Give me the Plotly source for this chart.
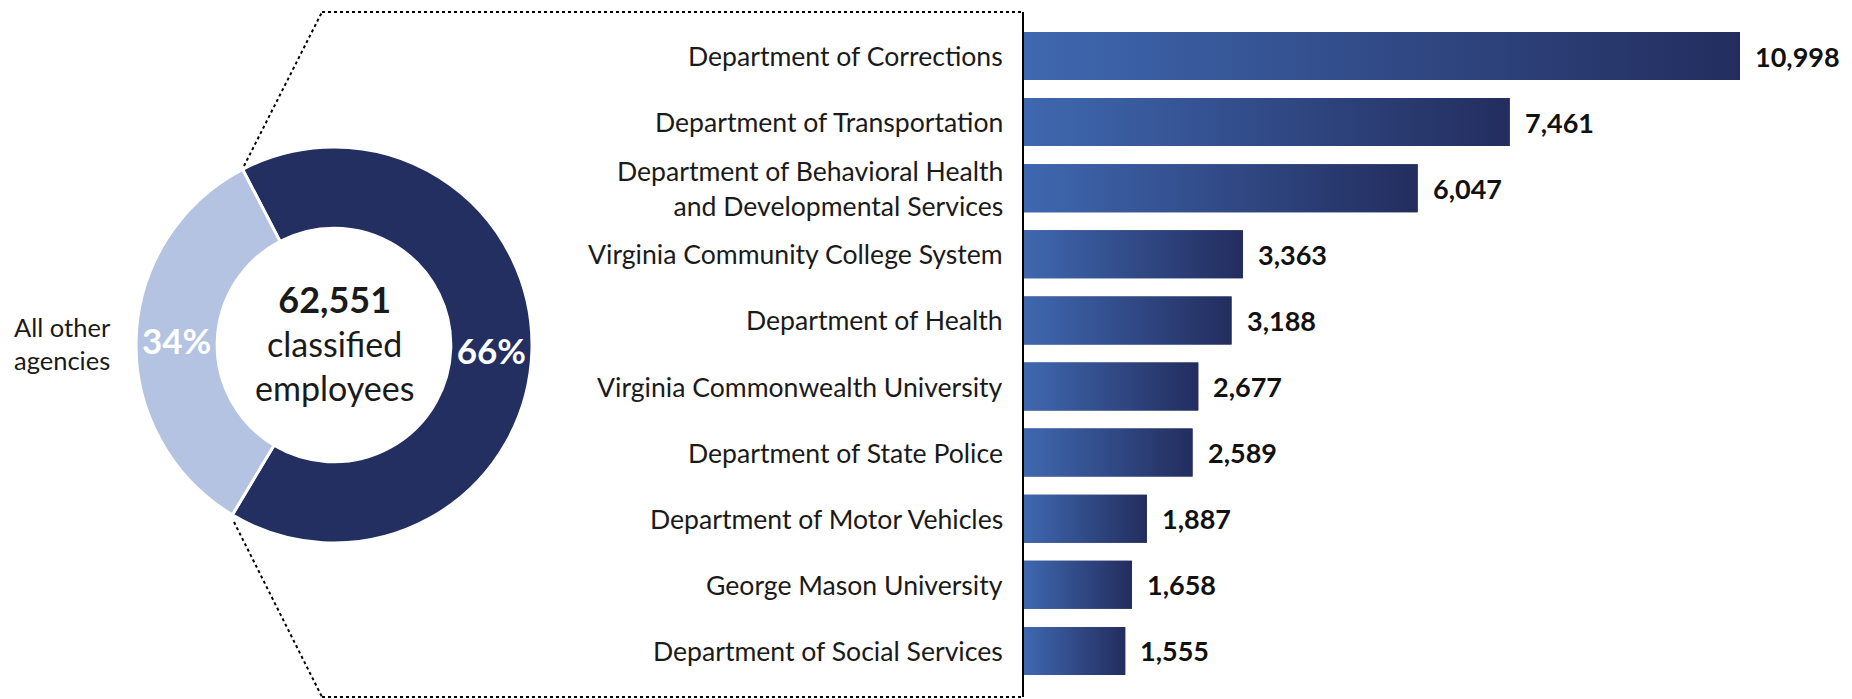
import plotly.graph_objects as go

# ---------------- data ----------------
agencies = [
    "Department of Corrections",
    "Department of Transportation",
    "Department of Behavioral Health<br>and Developmental Services",
    "Virginia Community College System",
    "Department of Health",
    "Virginia Commonwealth University",
    "Department of State Police",
    "Department of Motor Vehicles",
    "George Mason University",
    "Department of Social Services",
]
employees = [10998, 7461, 6047, 3363, 3188, 2677, 2589, 1887, 1658, 1555]
total_employees = 62551
donut_labels = ["Top 10 agencies", "All other agencies"]

# ---------------- styling ----------------
W, H = 1852, 699
OFF = 8  # page body margin of the browser
FONT = "Lato"
DARK = "#222F60"
LIGHT = "#B3C3E1"
GRAD = [[0, "#3F68B0"], [1, "#232D5E"]]
TXT = "#1a1a1a"


def px_x(p):
    return (p - OFF) / W


def px_y(p):
    return 1 - (p - OFF) / H


top10 = sum(employees)
donut_values = [top10, total_employees - top10]

fig = go.Figure()

# donut
cx, cy, R = 334, 345, 198
fig.add_trace(go.Pie(
    values=donut_values,
    labels=donut_labels,
    hole=0.59,
    sort=False,
    direction="clockwise",
    rotation=-27.5,
    marker=dict(colors=[DARK, LIGHT], line=dict(color="white", width=3)),
    texttemplate="<b>%{percent:.0%}</b>",
    textposition="inside",
    insidetextorientation="horizontal",
    textfont=dict(family=FONT, size=35, color="white"),
    showlegend=False,
    domain=dict(x=[px_x(cx - R), px_x(cx + R)], y=[px_y(cy + R), px_y(cy - R)]),
    hoverinfo="label+value+percent",
))

# bars
idx = list(range(len(agencies)))
half = 0.363
fig.add_trace(go.Bar(
    x=employees, y=idx, orientation="h", width=2 * half,
    marker=dict(color="#2C3F75", line=dict(width=0)),
    showlegend=False, xaxis="x", yaxis="y",
))
for i, v in zip(idx, employees):
    fig.add_trace(go.Scatter(
        x=[0, v, v, 0, 0],
        y=[i - half, i - half, i + half, i + half, i - half],
        mode="lines", fill="toself",
        fillgradient=dict(type="horizontal", colorscale=GRAD),
        line=dict(width=0, color="rgba(0,0,0,0)"),
        showlegend=False, hoverinfo="skip",
    ))

annotations = []
# category labels
for i, name in zip(idx, agencies):
    annotations.append(dict(
        x=0, y=i, xref="x", yref="y", text=name, showarrow=False,
        xanchor="right", yanchor="middle", xshift=-19, align="right",
        font=dict(family=FONT, size=26.6, color=TXT),
    ))
# value labels
for i, v in zip(idx, employees):
    annotations.append(dict(
        x=v, y=i, xref="x", yref="y", text=f"<b>{v:,}</b>", showarrow=False,
        xanchor="left", yanchor="middle", xshift=13,
        font=dict(family=FONT, size=27, color="#111111"),
    ))
# donut centre
annotations.append(dict(
    x=px_x(cx), y=px_y(cy - 3), xref="paper", yref="paper",
    text=f"<b><span style='font-size:36px'>{total_employees:,}</span></b><br>classified<br>employees",
    showarrow=False, xanchor="center", yanchor="middle",
    font=dict(family=FONT, size=34, color=TXT),
))
annotations.append(dict(
    x=px_x(62), y=px_y(344), xref="paper", yref="paper",
    text="All other<br>agencies", showarrow=False,
    xanchor="center", yanchor="middle",
    font=dict(family=FONT, size=25.5, color=TXT),
))

# connector frame
left_top, left_bot = 322, 322
axis_x = 1023
ytop, ybot = 12, 697
dot = dict(color="black", width=2, dash="dot")
shapes = [
    dict(type="line", xref="paper", yref="paper", x0=px_x(244), y0=px_y(166),
         x1=px_x(left_top), y1=px_y(ytop), line=dot),
    dict(type="line", xref="paper", yref="paper", x0=px_x(left_top), y0=px_y(ytop),
         x1=px_x(axis_x), y1=px_y(ytop), line=dot),
    dict(type="line", xref="paper", yref="paper", x0=px_x(234), y0=px_y(522),
         x1=px_x(left_bot), y1=px_y(ybot), line=dot),
    dict(type="line", xref="paper", yref="paper", x0=px_x(left_bot), y0=px_y(ybot),
         x1=px_x(axis_x), y1=px_y(ybot), line=dot),
    dict(type="line", xref="paper", yref="paper", x0=px_x(axis_x), y0=px_y(ytop),
         x1=px_x(axis_x), y1=px_y(ybot), line=dict(color="black", width=2)),
]

cat_h = 66.1
y_top_px = 56 - cat_h / 2
y_bot_px = y_top_px + cat_h * len(agencies)

bar_x0 = 1024
px_per_unit = (1740 - bar_x0) / max(employees)
x_max = (W + OFF - bar_x0) / px_per_unit

fig.update_layout(
    width=W, height=H,
    margin=dict(l=0, r=0, t=0, b=0),
    paper_bgcolor="white", plot_bgcolor="white",
    xaxis=dict(domain=[px_x(bar_x0), 1.0], range=[0, x_max], visible=False, fixedrange=True),
    yaxis=dict(domain=[px_y(y_bot_px), px_y(y_top_px)], range=[len(agencies) - 0.5, -0.5],
               visible=False, fixedrange=True),
    annotations=annotations,
    shapes=shapes,
    font=dict(family=FONT),
)

fig.write_html("out.html")
